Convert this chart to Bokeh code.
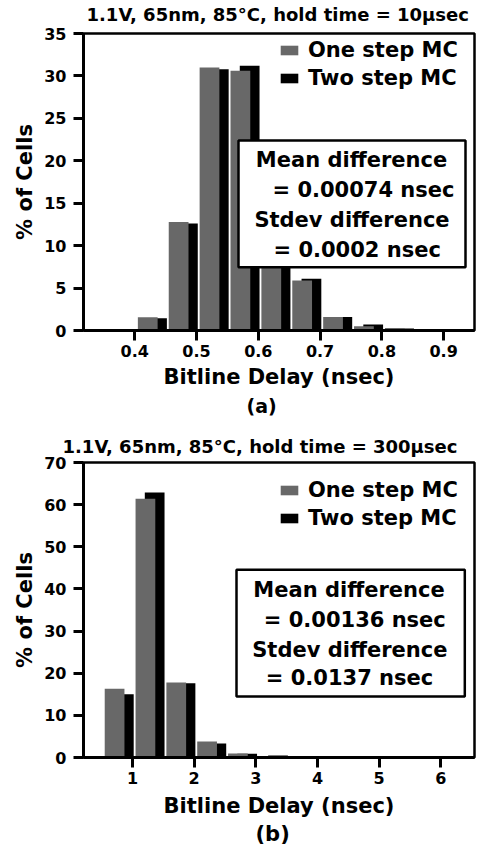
from bokeh.plotting import figure
from bokeh.models import (FixedTicker, Range1d, Legend, LegendItem, Label,
                          BoxAnnotation, ColumnDataSource, Title)
from bokeh.layouts import column
from bokeh.transform import dodge
from bokeh.embed import file_html
from bokeh.resources import INLINE

# ---------------- data ----------------
# panel (a): hold time = 10 usec, bin width 0.05 nsec
bins_a = [0.375, 0.425, 0.475, 0.525, 0.575, 0.625, 0.675, 0.725, 0.775, 0.825, 0.875, 0.925]
one_step_a = [0.15, 1.55, 12.8, 31.0, 30.6, 15.3, 5.9, 1.6, 0.5, 0.3, 0.15, 0.15]
two_step_a = [0.15, 1.45, 12.6, 30.8, 31.2, 15.0, 6.1, 1.6, 0.7, 0.25, 0.15, 0.15]
xticks_a = [0.4, 0.5, 0.6, 0.7, 0.8, 0.9]
yticks_a = [0, 5, 10, 15, 20, 25, 30, 35]

# panel (b): hold time = 300 usec, bin width 0.5 nsec
bins_b = [0.75, 1.25, 1.75, 2.25, 2.75, 3.25, 3.75, 4.25, 4.75, 5.25, 5.75, 6.25]
one_step_b = [16.3, 61.4, 17.8, 3.8, 0.95, 0.35, 0.25, 0.2, 0.2, 0.2, 0.15, 0.2]
two_step_b = [15.0, 62.9, 17.6, 3.3, 0.9, 0.5, 0.25, 0.2, 0.2, 0.2, 0.15, 0.25]
xticks_b = [1, 2, 3, 4, 5, 6]
yticks_b = [0, 10, 20, 30, 40, 50, 60, 70]

title_a = "1.1V, 65nm, 85°C, hold time = 10µsec"
title_b = "1.1V, 65nm, 85°C, hold time = 300µsec"
stats_a = ["Mean difference", "= 0.00074 nsec", "Stdev difference", "= 0.0002 nsec"]
stats_b = ["Mean difference", "= 0.00136 nsec", "Stdev difference", "= 0.0137 nsec"]
series_names = ["One step MC", "Two step MC"]
x_label = "Bitline Delay (nsec)"
y_label = "% of Cells"

FONT = "DejaVu Sans"
GREY = "#686868"
LEFT = 83
LIFT = 7   # alphabetic-baseline labels sit this much lower than their y


def txt(p, text, x, y, size, align="center"):
    p.add_layout(Label(x=x, y=y + LIFT, x_units="screen", y_units="screen", text=text,
                       text_font=FONT, text_font_style="bold", text_font_size=size,
                       text_color="black", text_align=align, text_baseline="alphabetic"))


def text_fig(h, items):
    # strip whose frame starts where the chart frames start (column aligns frames)
    f = figure(frame_width=482 - LEFT, frame_height=h, min_border_left=LEFT,
               min_border_right=0, min_border_top=0, min_border_bottom=0,
               x_axis_location=None, y_axis_location=None,
               x_range=Range1d(0, 1), y_range=Range1d(0, 1),
               output_backend="svg", toolbar_location=None, tools="")
    f.outline_line_color = None
    f.background_fill_color = "white"
    f.border_fill_color = "white"
    for g in f.grid:
        g.visible = False
    for t, x, y, size in items:
        txt(f, t, x - LEFT, y, size, align="left")
    return f


def panel(bins, one, two, width, xr, yr, xt, yt, fh, mr, mt, mb, xl_standoff,
          box, lines, legend_loc, title=None, title_off=0):
    p = figure(frame_width=391, frame_height=fh, min_border_left=LEFT, min_border_right=mr,
               min_border_top=mt, min_border_bottom=mb,
               x_range=Range1d(*xr), y_range=Range1d(*yr),
               output_backend="svg", toolbar_location=None, tools="")
    p.background_fill_color = "white"
    p.border_fill_color = "white"
    p.outline_line_color = "black"
    p.outline_line_width = 2.5
    p.grid.visible = False

    src = ColumnDataSource(dict(x=bins, one=one, two=two))
    r_two = p.vbar(x=dodge("x", 0.22 * width, range=p.x_range), top="two", bottom=0,
                   width=0.64 * width, source=src, fill_color="black", line_color=None)
    r_one = p.vbar(x=dodge("x", -0.08 * width, range=p.x_range), top="one", bottom=0,
                   width=0.64 * width, source=src, fill_color=GREY, line_color=None)

    p.xaxis.ticker = FixedTicker(ticks=xt)
    p.yaxis.ticker = FixedTicker(ticks=yt)
    p.xaxis.axis_label = x_label
    p.yaxis.axis_label = y_label
    for ax in (p.xaxis[0], p.yaxis[0]):
        ax.axis_line_width = 3
        ax.axis_line_color = "black"
        ax.major_tick_line_width = 3
        ax.major_tick_line_color = "black"
        ax.major_tick_out = 10
        ax.major_tick_in = 0
        ax.minor_tick_out = 0
        ax.minor_tick_in = 0
        ax.major_label_text_font = FONT
        ax.major_label_text_font_style = "bold"
        ax.major_label_text_font_size = "16px"
        ax.major_label_text_color = "black"
        ax.axis_label_text_font = FONT
        ax.axis_label_text_font_style = "bold"
        ax.axis_label_text_font_size = "21px"
        ax.axis_label_text_color = "black"
    p.xaxis.major_label_standoff = 4
    p.xaxis.axis_label_standoff = xl_standoff
    p.yaxis.major_label_standoff = 7
    p.yaxis.axis_label_standoff = 4

    # stats box
    p.add_layout(BoxAnnotation(left=box[0], right=box[1], top=box[2], bottom=box[3],
                               left_units="screen", right_units="screen",
                               top_units="screen", bottom_units="screen",
                               fill_color="white", fill_alpha=1.0,
                               line_color="black", line_width=2.5, line_alpha=1.0))
    for t, (lx, ly) in zip(lines[0], lines[1]):
        txt(p, t, lx, ly, "21px")

    legend = Legend(items=[LegendItem(label=series_names[0], renderers=[r_one]),
                           LegendItem(label=series_names[1], renderers=[r_two])],
                    location=legend_loc, orientation="vertical",
                    glyph_width=22, glyph_height=12, label_standoff=8, spacing=4,
                    padding=0, margin=0, border_line_color=None,
                    background_fill_alpha=0.0,
                    label_text_font=FONT, label_text_font_style="bold",
                    label_text_font_size="21px", label_text_color="black",
                    label_text_baseline="alphabetic")
    p.add_layout(legend)

    if title is not None:
        p.add_layout(Title(text=title, align="left", offset=title_off, standoff=12,
                           vertical_align="bottom", text_font=FONT, text_font_style="bold",
                           text_font_size="18px", text_color="black"), "above")
    return p


# title strip above panel (a)   (canvas y 0 .. 26)
ta = text_fig(26, [(title_a, 86, 5.3, "18px")])

# panel (a)                      (canvas y 26 .. 394)
pa = panel(bins_a, one_step_a, two_step_a, 0.05, (0.317, 0.950), (0, 35), xticks_a, yticks_a,
           297, 8, 7, 64, 5,
           (155, 382, 190, 63.3),
           (stats_a, [(268, 163.3), (280, 134), (268.5, 103.3), (273.7, 73.3)]),
           (195, 240))

# strip with the "(a)" caption   (canvas y 394 .. 427)
tm = text_fig(33, [("(a)", 246, 15, "19px")])

# panel (b) with its title       (canvas y 427 .. 822)
pb = panel(bins_b, one_step_b, two_step_b, 0.5, (0.206, 6.546), (0, 70), xticks_b, yticks_b,
           295, 8, 34, 66, 7,
           (153, 381.3, 187.7, 61),
           (stats_b, [(265.5, 161), (271.3, 131), (266.3, 101), (266, 72.7)]),
           (195, 227), title=title_b, title_off=-21)

# strip with the "(b)" caption   (canvas y 822 .. 848)
tb = text_fig(26, [("(b)", 255, 8.7, "21px")])

layout = column(ta, pa, tm, pb, tb, spacing=0)
open("out.html", "w").write(file_html(layout, INLINE))
